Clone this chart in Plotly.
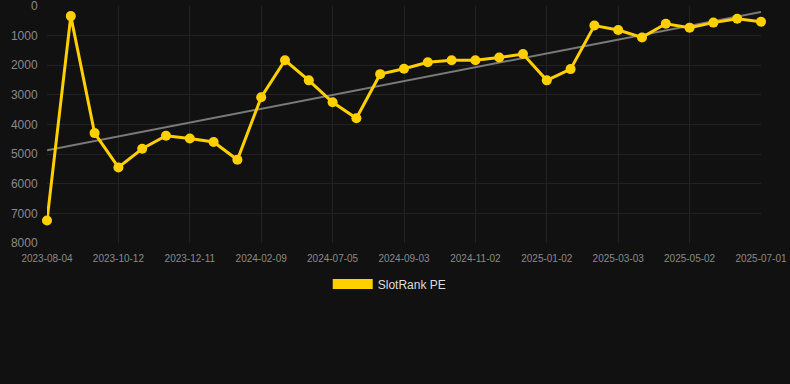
import numpy as np
import plotly.graph_objects as go

tick_labels = ["2023-08-04", "2023-10-12", "2023-12-11", "2024-02-09", "2024-07-05",
               "2024-09-03", "2024-11-02", "2025-01-02", "2025-03-03", "2025-05-02", "2025-07-01"]
rank_values = [7240, 340, 4290, 5450, 4820, 4380, 4470, 4590, 5190, 3080,
               1830, 2510, 3250, 3790, 2300, 2120, 1900, 1830, 1830, 1740,
               1620, 2510, 2130, 660, 810, 1060, 600, 730, 560, 430, 530]
y_ticks = [0, 1000, 2000, 3000, 4000, 5000, 6000, 7000, 8000]
series_name = "SlotRank PE"

x_idx = np.arange(len(rank_values))
coef = np.polyfit(x_idx, rank_values, 1)
trend = np.polyval(coef, x_idx)

gold = "#FFD000"
fig = go.Figure()
fig.add_trace(go.Scatter(x=x_idx, y=trend, mode="lines", line=dict(color="#7a7a7a", width=2),
                         showlegend=False, hoverinfo="skip"))
fig.add_trace(go.Scatter(x=x_idx, y=rank_values, mode="lines+markers", name=series_name,
                         line=dict(color=gold, width=3), marker=dict(size=10, color=gold),
                         cliponaxis=False, showlegend=False))
fig.add_trace(go.Scatter(x=[None], y=[None], mode="lines", name=series_name,
                         line=dict(color=gold, width=11), showlegend=True))

fig.update_layout(
    width=790, height=384,
    paper_bgcolor="#111111", plot_bgcolor="#111111",
    margin=dict(l=47, r=29, t=6, b=141, autoexpand=False),
    font=dict(family="Liberation Sans, Arial, sans-serif", color="#999999"),
    showlegend=True,
    legend=dict(orientation="h", x=0.48, xanchor="center", y=-0.173, yanchor="middle",
                font=dict(size=12, color="#dddddd"), bgcolor="rgba(0,0,0,0)", itemwidth=40),
    xaxis=dict(range=[0, len(rank_values) - 1], tickvals=list(x_idx[::3]), ticktext=tick_labels,
               showgrid=True, gridcolor="#222222", gridwidth=1, zeroline=False, showline=False,
               ticks="outside", ticklen=6, tickcolor="rgba(0,0,0,0)", ticklabeloverflow="allow",
               automargin=False, tickfont=dict(size=10, color="#8a8a8a")),
    yaxis=dict(range=[8001, -1], tickvals=y_ticks, ticktext=[str(v) for v in y_ticks],
               showgrid=True, gridcolor="#222222", gridwidth=1, zeroline=False, showline=False,
               ticks="outside", ticklen=6, tickcolor="rgba(0,0,0,0)", ticklabeloverflow="allow",
               automargin=False, tickfont=dict(size=12, color="#8a8a8a")),
)
fig.write_html("out.html", config={"displayModeBar": False},
               post_script="document.body.style.margin='0';document.body.style.background='#111111';")
